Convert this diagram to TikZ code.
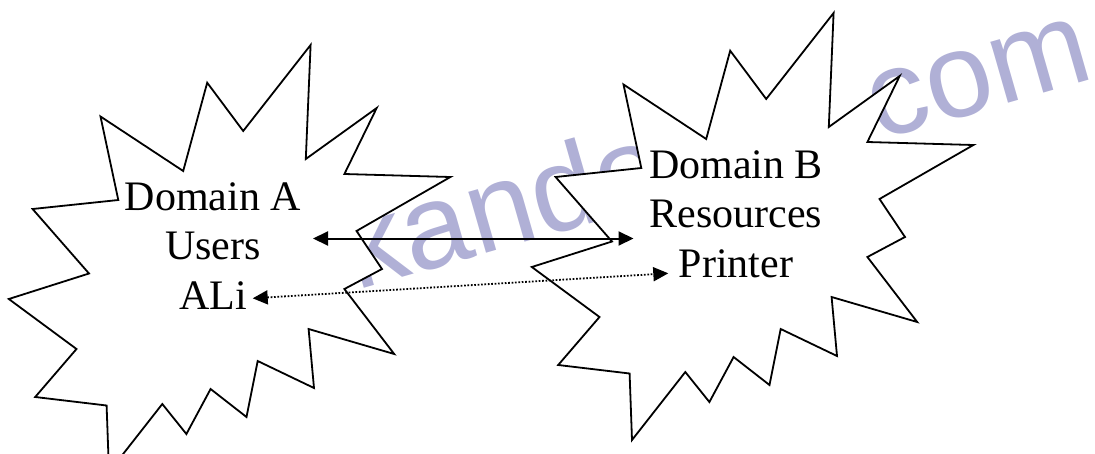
\documentclass[tikz,border=0pt]{standalone}
\usepackage{fontspec}
\setmainfont{Liberation Serif}
\newfontfamily\wmfont{Liberation Sans}
\usetikzlibrary{arrows.meta}
\definecolor{wm}{RGB}{176,176,214}
\begin{document}
\begin{tikzpicture}[x=1pt,y=-1pt,
  burst/.style={draw=black, fill=white, line width=1.8pt, line join=miter},
  lbl/.style={font=\fontsize{42}{49.5}\selectfont, inner sep=0pt, anchor=base},
  wmark/.style={text=wm, font=\wmfont\fontsize{120}{144}\selectfont, inner sep=0pt, anchor=base west, rotate=16},
  tip/.tip={Triangle[length=15pt,width=14pt]},
  link/.style={line width=2pt, tip-tip},
  dotlink/.style={line width=1.8pt, dash pattern=on 1.7pt off 1.7pt, tip-tip}
]
\useasboundingbox (0,0) rectangle (1095,453);
\clip (0,0) rectangle (1095,453);
\def\burstpath{(310.6,45) -- (305.8,159) -- (376.7,108) -- (344.4,174) -- (450.4,177) -- (356.5,231) -- (382,269) -- (344.4,289) -- (394.2,354) -- (308.6,329) -- (314,388) -- (257.7,361) -- (246.5,417) -- (210.6,389) -- (186.4,434) -- (162.3,404) -- (109,472) -- (106.6,405.5) -- (35.2,397) -- (76.5,349) -- (8.8,299) -- (89,273.5) -- (32.6,209) -- (118.3,200) -- (100.5,116.5) -- (183.2,171) -- (207.2,82.7) -- (243.2,131) -- cycle}
% watermark
\node[wmark] (wm1) at (356,290.8) {kando};
\node[wmark] (wm2) at (878.5,140.6) {com};
% bursts
\draw[burst] \burstpath;
\draw[burst, shift={(523,-32)}] \burstpath;
% labels
\node[lbl] (a1) at (213,210) {Domain A};
\node[lbl] (a2) at (213,259.5) {Users};
\node[lbl] (a3) at (213,309) {ALi};
\node[lbl] (b1) at (736,178) {Domain B};
\node[lbl] (b2) at (736,227.5) {Resources};
\node[lbl] (b3) at (736,277) {Printer};
% connectors
\coordinate (pa) at (313,238.5);
\coordinate (pb) at (633.5,238.5);
\coordinate (qa) at (252.7,298.3);
\coordinate (qb) at (668.3,273.3);
\draw[link] (pa) -- (pb);
\draw[dotlink] (qa) -- (qb);
\end{tikzpicture}
\end{document}
